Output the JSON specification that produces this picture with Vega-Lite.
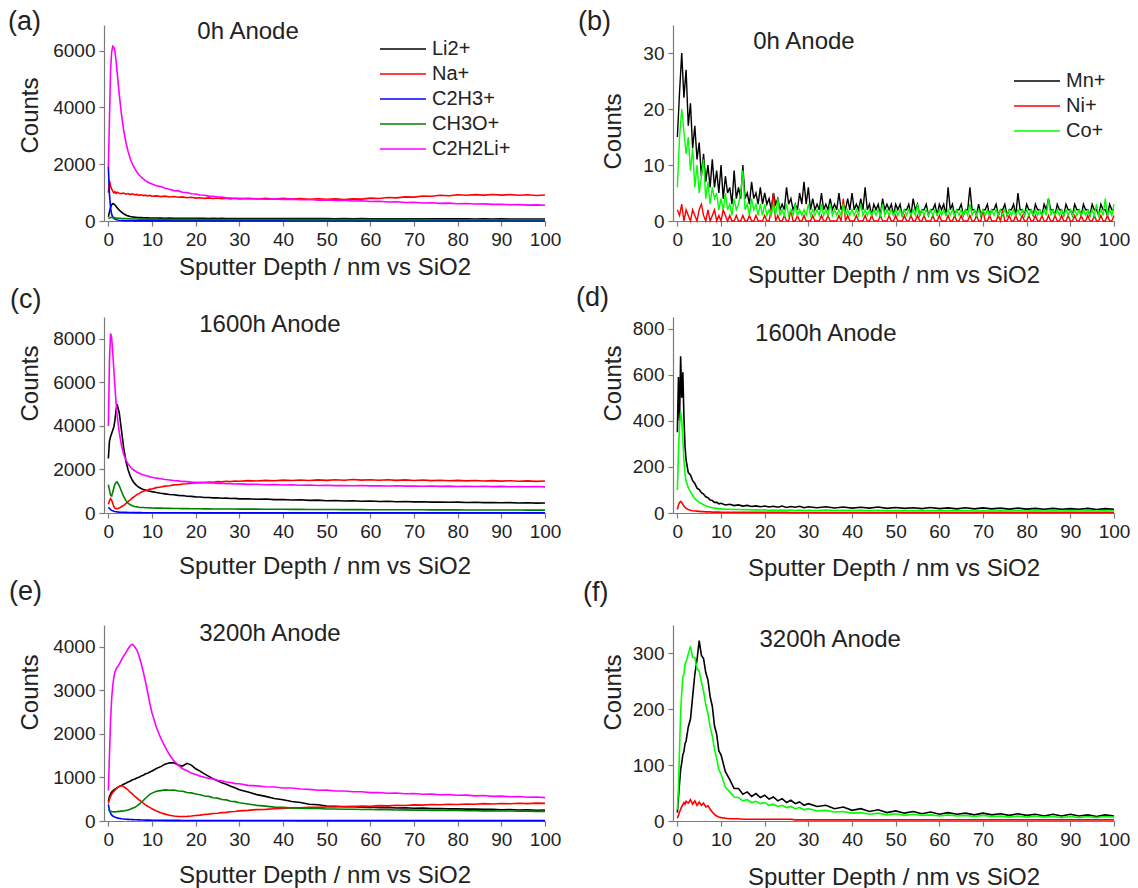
{
  "$schema": "https://vega.github.io/schema/vega-lite/v6.json",
  "background": "white",
  "padding": {"left": 8, "top": 8, "right": 6, "bottom": 4},
  "config": {
    "font": "Liberation Sans",
    "view": {"stroke": null},
    "axis": {"grid": false, "domainColor": "#7a7a7a", "tickColor": "#7a7a7a", "domainWidth": 1.2, "tickWidth": 1.2, "tickSize": 5, "labelFontSize": 19, "labelColor": "#222222", "labelPadding": 4, "labelFlush": false, "labelOverlap": false, "titleFontSize": 24, "titleFontWeight": "normal", "titleColor": "#222222"},
    "axisY": {"titleBaseline": "alphabetic"},
    "legend": {"labelFontSize": 20, "labelColor": "#222222", "symbolType": "stroke", "symbolSize": 2116, "symbolStrokeWidth": 2.5, "labelOffset": 5, "clipHeight": 22, "rowPadding": 3, "padding": 0},
    "title": {"anchor": "start", "frame": "bounds", "fontSize": 27, "fontWeight": "normal", "color": "#222222", "baseline": "bottom"},
    "line": {"strokeWidth": 1.6},
    "text": {"fontSize": 24, "color": "#222222", "align": "center", "baseline": "middle"}
  },
  "datasets": {
    "a": [
      {"x":0,"Li2+":150,"Na+":1000,"C2H3+":1900,"CH3O+":80,"C2H2Li+":1900},
      {"x":0.25,"Li2+":320,"Na+":1420,"C2H3+":950,"CH3O+":110,"C2H2Li+":3600},
      {"x":0.5,"Li2+":470,"Na+":1230,"C2H3+":460,"CH3O+":125,"C2H2Li+":5300},
      {"x":0.75,"Li2+":570,"Na+":1120,"C2H3+":240,"CH3O+":130,"C2H2Li+":5950},
      {"x":1,"Li2+":610,"Na+":1060,"C2H3+":150,"CH3O+":120,"C2H2Li+":6150},
      {"x":1.25,"Li2+":600,"Na+":990,"C2H3+":100,"CH3O+":118,"C2H2Li+":6120},
      {"x":1.5,"Li2+":570,"Na+":1030,"C2H3+":70,"CH3O+":110,"C2H2Li+":5980},
      {"x":1.75,"Li2+":520,"Na+":970,"C2H3+":50,"CH3O+":106,"C2H2Li+":5650},
      {"x":2,"Li2+":470,"Na+":1010,"C2H3+":36,"CH3O+":100,"C2H2Li+":5250},
      {"x":2.5,"Li2+":380,"Na+":980,"C2H3+":25,"CH3O+":95,"C2H2Li+":4450},
      {"x":3,"Li2+":310,"Na+":965,"C2H3+":18,"CH3O+":90,"C2H2Li+":3750},
      {"x":3.5,"Li2+":255,"Na+":985,"C2H3+":14,"CH3O+":86,"C2H2Li+":3200},
      {"x":4,"Li2+":210,"Na+":945,"C2H3+":11,"CH3O+":82,"C2H2Li+":2780},
      {"x":4.5,"Li2+":180,"Na+":965,"C2H3+":9,"CH3O+":78,"C2H2Li+":2450},
      {"x":5,"Li2+":160,"Na+":930,"C2H3+":8,"CH3O+":74,"C2H2Li+":2200},
      {"x":5.5,"Li2+":146,"Na+":955,"C2H3+":7,"CH3O+":72,"C2H2Li+":2000},
      {"x":6,"Li2+":136,"Na+":925,"C2H3+":6,"CH3O+":70,"C2H2Li+":1860},
      {"x":6.5,"Li2+":128,"Na+":935,"C2H3+":6,"CH3O+":68,"C2H2Li+":1730},
      {"x":7,"Li2+":122,"Na+":905,"C2H3+":5,"CH3O+":66,"C2H2Li+":1630},
      {"x":7.5,"Li2+":118,"Na+":925,"C2H3+":5,"CH3O+":65,"C2H2Li+":1550},
      {"x":8,"Li2+":114,"Na+":895,"C2H3+":5,"CH3O+":64,"C2H2Li+":1480},
      {"x":8.5,"Li2+":111,"Na+":910,"C2H3+":5,"CH3O+":63,"C2H2Li+":1420},
      {"x":9,"Li2+":109,"Na+":880,"C2H3+":4,"CH3O+":62,"C2H2Li+":1370},
      {"x":9.5,"Li2+":107,"Na+":900,"C2H3+":4,"CH3O+":61,"C2H2Li+":1330},
      {"x":10,"Li2+":105,"Na+":870,"C2H3+":4,"CH3O+":60,"C2H2Li+":1300},
      {"x":11,"Li2+":104,"Na+":885,"C2H3+":4,"CH3O+":60,"C2H2Li+":1240},
      {"x":12,"Li2+":101,"Na+":860,"C2H3+":4,"CH3O+":59,"C2H2Li+":1210},
      {"x":13,"Li2+":99,"Na+":875,"C2H3+":4,"CH3O+":59,"C2H2Li+":1150},
      {"x":14,"Li2+":100,"Na+":845,"C2H3+":4,"CH3O+":58,"C2H2Li+":1120},
      {"x":15,"Li2+":97,"Na+":860,"C2H3+":4,"CH3O+":58,"C2H2Li+":1070},
      {"x":16,"Li2+":98,"Na+":835,"C2H3+":4,"CH3O+":57,"C2H2Li+":1060},
      {"x":17,"Li2+":95,"Na+":850,"C2H3+":4,"CH3O+":57,"C2H2Li+":1010},
      {"x":18,"Li2+":96,"Na+":820,"C2H3+":4,"CH3O+":56,"C2H2Li+":1000},
      {"x":19,"Li2+":93,"Na+":835,"C2H3+":4,"CH3O+":56,"C2H2Li+":960},
      {"x":20,"Li2+":94,"Na+":805,"C2H3+":4,"CH3O+":56,"C2H2Li+":950},
      {"x":21,"Li2+":92,"Na+":820,"C2H3+":4,"CH3O+":55,"C2H2Li+":915},
      {"x":22,"Li2+":93,"Na+":795,"C2H3+":4,"CH3O+":55,"C2H2Li+":905},
      {"x":23,"Li2+":90,"Na+":815,"C2H3+":4,"CH3O+":55,"C2H2Li+":875},
      {"x":24,"Li2+":92,"Na+":790,"C2H3+":4,"CH3O+":54,"C2H2Li+":870},
      {"x":25,"Li2+":89,"Na+":810,"C2H3+":4,"CH3O+":54,"C2H2Li+":845},
      {"x":26,"Li2+":91,"Na+":785,"C2H3+":4,"CH3O+":54,"C2H2Li+":840},
      {"x":27,"Li2+":88,"Na+":805,"C2H3+":4,"CH3O+":53,"C2H2Li+":815},
      {"x":28,"Li2+":90,"Na+":780,"C2H3+":4,"CH3O+":53,"C2H2Li+":812},
      {"x":29,"Li2+":87,"Na+":800,"C2H3+":4,"CH3O+":53,"C2H2Li+":790},
      {"x":30,"Li2+":89,"Na+":778,"C2H3+":4,"CH3O+":52,"C2H2Li+":795},
      {"x":32,"Li2+":86,"Na+":800,"C2H3+":4,"CH3O+":52,"C2H2Li+":775},
      {"x":34,"Li2+":88,"Na+":775,"C2H3+":4,"CH3O+":52,"C2H2Li+":785},
      {"x":36,"Li2+":85,"Na+":798,"C2H3+":4,"CH3O+":51,"C2H2Li+":765},
      {"x":38,"Li2+":87,"Na+":772,"C2H3+":4,"CH3O+":51,"C2H2Li+":778},
      {"x":40,"Li2+":84,"Na+":795,"C2H3+":4,"CH3O+":51,"C2H2Li+":760},
      {"x":42,"Li2+":86,"Na+":770,"C2H3+":4,"CH3O+":50,"C2H2Li+":770},
      {"x":44,"Li2+":83,"Na+":790,"C2H3+":4,"CH3O+":50,"C2H2Li+":748},
      {"x":46,"Li2+":85,"Na+":765,"C2H3+":4,"CH3O+":50,"C2H2Li+":758},
      {"x":48,"Li2+":82,"Na+":785,"C2H3+":4,"CH3O+":50,"C2H2Li+":735},
      {"x":50,"Li2+":84,"Na+":760,"C2H3+":4,"CH3O+":49,"C2H2Li+":745},
      {"x":52,"Li2+":81,"Na+":778,"C2H3+":4,"CH3O+":49,"C2H2Li+":722},
      {"x":54,"Li2+":83,"Na+":755,"C2H3+":4,"CH3O+":49,"C2H2Li+":730},
      {"x":56,"Li2+":80,"Na+":780,"C2H3+":4,"CH3O+":49,"C2H2Li+":705},
      {"x":58,"Li2+":82,"Na+":770,"C2H3+":4,"CH3O+":48,"C2H2Li+":712},
      {"x":60,"Li2+":79,"Na+":805,"C2H3+":4,"CH3O+":48,"C2H2Li+":688},
      {"x":62,"Li2+":81,"Na+":790,"C2H3+":4,"CH3O+":48,"C2H2Li+":695},
      {"x":64,"Li2+":78,"Na+":825,"C2H3+":4,"CH3O+":48,"C2H2Li+":670},
      {"x":66,"Li2+":80,"Na+":815,"C2H3+":4,"CH3O+":47,"C2H2Li+":676},
      {"x":68,"Li2+":77,"Na+":850,"C2H3+":4,"CH3O+":47,"C2H2Li+":652},
      {"x":70,"Li2+":79,"Na+":840,"C2H3+":4,"CH3O+":47,"C2H2Li+":660},
      {"x":72,"Li2+":76,"Na+":880,"C2H3+":4,"CH3O+":47,"C2H2Li+":636},
      {"x":74,"Li2+":78,"Na+":870,"C2H3+":4,"CH3O+":46,"C2H2Li+":642},
      {"x":76,"Li2+":75,"Na+":905,"C2H3+":4,"CH3O+":46,"C2H2Li+":622},
      {"x":78,"Li2+":77,"Na+":890,"C2H3+":4,"CH3O+":46,"C2H2Li+":628},
      {"x":80,"Li2+":74,"Na+":925,"C2H3+":4,"CH3O+":46,"C2H2Li+":608},
      {"x":82,"Li2+":76,"Na+":905,"C2H3+":4,"CH3O+":45,"C2H2Li+":614},
      {"x":84,"Li2+":73,"Na+":930,"C2H3+":4,"CH3O+":45,"C2H2Li+":596},
      {"x":86,"Li2+":75,"Na+":910,"C2H3+":4,"CH3O+":45,"C2H2Li+":602},
      {"x":88,"Li2+":72,"Na+":935,"C2H3+":4,"CH3O+":45,"C2H2Li+":584},
      {"x":90,"Li2+":74,"Na+":912,"C2H3+":4,"CH3O+":45,"C2H2Li+":590},
      {"x":92,"Li2+":71,"Na+":930,"C2H3+":4,"CH3O+":44,"C2H2Li+":572},
      {"x":94,"Li2+":73,"Na+":908,"C2H3+":4,"CH3O+":44,"C2H2Li+":578},
      {"x":96,"Li2+":70,"Na+":925,"C2H3+":4,"CH3O+":44,"C2H2Li+":560},
      {"x":98,"Li2+":72,"Na+":900,"C2H3+":4,"CH3O+":44,"C2H2Li+":566},
      {"x":100,"Li2+":70,"Na+":915,"C2H3+":4,"CH3O+":44,"C2H2Li+":552}
    ],
    "b": [
      {"x":0,"Mn+":15,"Ni+":2,"Co+":6},{"x":0.5,"Mn+":23,"Ni+":1,"Co+":15},{"x":1,"Mn+":30,"Ni+":3,"Co+":20},{"x":1.5,"Mn+":22,"Ni+":0,"Co+":16},
      {"x":2,"Mn+":27,"Ni+":2,"Co+":12},{"x":2.5,"Mn+":17,"Ni+":1,"Co+":15},{"x":3,"Mn+":21,"Ni+":0,"Co+":9},{"x":3.5,"Mn+":13,"Ni+":2,"Co+":13},
      {"x":4,"Mn+":17,"Ni+":1,"Co+":6},{"x":4.5,"Mn+":11,"Ni+":0,"Co+":10},{"x":5,"Mn+":14,"Ni+":2,"Co+":5},{"x":5.5,"Mn+":8,"Ni+":3,"Co+":8},
      {"x":6,"Mn+":12,"Ni+":1,"Co+":11},{"x":6.5,"Mn+":7,"Ni+":0,"Co+":4},{"x":7,"Mn+":10,"Ni+":2,"Co+":7},{"x":7.5,"Mn+":6,"Ni+":0,"Co+":3},
      {"x":8,"Mn+":11,"Ni+":1,"Co+":6},{"x":8.5,"Mn+":6,"Ni+":2,"Co+":4},{"x":9,"Mn+":9,"Ni+":0,"Co+":5},{"x":9.5,"Mn+":5,"Ni+":1,"Co+":2},
      {"x":10,"Mn+":10,"Ni+":0,"Co+":4},{"x":10.5,"Mn+":4,"Ni+":2,"Co+":2},{"x":11,"Mn+":8,"Ni+":1,"Co+":5},{"x":11.5,"Mn+":5,"Ni+":0,"Co+":2},
      {"x":12,"Mn+":6,"Ni+":1,"Co+":3},{"x":12.5,"Mn+":3,"Ni+":0,"Co+":1},{"x":13,"Mn+":9,"Ni+":0,"Co+":4},{"x":13.5,"Mn+":4,"Ni+":1,"Co+":2},
      {"x":14,"Mn+":6,"Ni+":0,"Co+":3},{"x":14.5,"Mn+":4,"Ni+":0,"Co+":5},{"x":15,"Mn+":10,"Ni+":1,"Co+":9},{"x":15.5,"Mn+":4,"Ni+":0,"Co+":2},
      {"x":16,"Mn+":5,"Ni+":0,"Co+":3},{"x":16.5,"Mn+":3,"Ni+":1,"Co+":1},{"x":17,"Mn+":7,"Ni+":0,"Co+":4},{"x":17.5,"Mn+":4,"Ni+":0,"Co+":2},
      {"x":18,"Mn+":5,"Ni+":1,"Co+":3},{"x":18.5,"Mn+":3,"Ni+":0,"Co+":1},{"x":19,"Mn+":6,"Ni+":0,"Co+":3},{"x":19.5,"Mn+":3,"Ni+":0,"Co+":1},
      {"x":20,"Mn+":5,"Ni+":1,"Co+":3},{"x":20.5,"Mn+":3,"Ni+":0,"Co+":1},{"x":21,"Mn+":4,"Ni+":0,"Co+":2},{"x":21.5,"Mn+":2,"Ni+":2,"Co+":1},
      {"x":22,"Mn+":5,"Ni+":5,"Co+":3},{"x":22.5,"Mn+":3,"Ni+":0,"Co+":1},{"x":23,"Mn+":4,"Ni+":1,"Co+":4},{"x":23.5,"Mn+":2,"Ni+":0,"Co+":1},
      {"x":24,"Mn+":3,"Ni+":0,"Co+":2},{"x":24.5,"Mn+":2,"Ni+":1,"Co+":1},{"x":25,"Mn+":6,"Ni+":0,"Co+":3},{"x":25.5,"Mn+":3,"Ni+":0,"Co+":1},
      {"x":26,"Mn+":4,"Ni+":2,"Co+":2},{"x":26.5,"Mn+":2,"Ni+":0,"Co+":1},{"x":27,"Mn+":3,"Ni+":0,"Co+":3},{"x":27.5,"Mn+":2,"Ni+":1,"Co+":1},
      {"x":28,"Mn+":5,"Ni+":0,"Co+":2},{"x":28.5,"Mn+":3,"Ni+":0,"Co+":1},{"x":29,"Mn+":7,"Ni+":1,"Co+":2},{"x":29.5,"Mn+":3,"Ni+":0,"Co+":1},
      {"x":30,"Mn+":6,"Ni+":0,"Co+":3},{"x":30.5,"Mn+":2,"Ni+":0,"Co+":1},{"x":31,"Mn+":4,"Ni+":1,"Co+":2},{"x":31.5,"Mn+":2,"Ni+":0,"Co+":1},
      {"x":32,"Mn+":3,"Ni+":0,"Co+":2},{"x":32.5,"Mn+":2,"Ni+":0,"Co+":1},{"x":33,"Mn+":5,"Ni+":1,"Co+":3},{"x":33.5,"Mn+":2,"Ni+":0,"Co+":1},
      {"x":34,"Mn+":3,"Ni+":0,"Co+":2},{"x":34.5,"Mn+":2,"Ni+":1,"Co+":1},{"x":35,"Mn+":4,"Ni+":0,"Co+":3},{"x":35.5,"Mn+":2,"Ni+":0,"Co+":1},
      {"x":36,"Mn+":3,"Ni+":0,"Co+":2},{"x":36.5,"Mn+":2,"Ni+":0,"Co+":1},{"x":37,"Mn+":5,"Ni+":1,"Co+":2},{"x":37.5,"Mn+":2,"Ni+":0,"Co+":1},
      {"x":38,"Mn+":3,"Ni+":4,"Co+":3},{"x":38.5,"Mn+":2,"Ni+":0,"Co+":1},{"x":39,"Mn+":4,"Ni+":1,"Co+":2},{"x":39.5,"Mn+":2,"Ni+":0,"Co+":1},
      {"x":40,"Mn+":5,"Ni+":0,"Co+":2},{"x":40.5,"Mn+":2,"Ni+":0,"Co+":1},{"x":41,"Mn+":3,"Ni+":1,"Co+":2},{"x":41.5,"Mn+":2,"Ni+":0,"Co+":1},
      {"x":42,"Mn+":4,"Ni+":0,"Co+":3},{"x":42.5,"Mn+":2,"Ni+":0,"Co+":1},{"x":43,"Mn+":6,"Ni+":1,"Co+":2},{"x":43.5,"Mn+":2,"Ni+":0,"Co+":1},
      {"x":44,"Mn+":3,"Ni+":0,"Co+":2},{"x":44.5,"Mn+":1,"Ni+":1,"Co+":1},{"x":45,"Mn+":3,"Ni+":0,"Co+":2},{"x":45.5,"Mn+":2,"Ni+":0,"Co+":1},
      {"x":46,"Mn+":3,"Ni+":0,"Co+":2},{"x":46.5,"Mn+":1,"Ni+":1,"Co+":1},{"x":47,"Mn+":4,"Ni+":0,"Co+":3},{"x":47.5,"Mn+":2,"Ni+":0,"Co+":1},
      {"x":48,"Mn+":3,"Ni+":0,"Co+":2},{"x":48.5,"Mn+":2,"Ni+":1,"Co+":1},{"x":49,"Mn+":3,"Ni+":0,"Co+":2},{"x":49.5,"Mn+":1,"Ni+":0,"Co+":1},
      {"x":50,"Mn+":3,"Ni+":1,"Co+":2},{"x":50.5,"Mn+":2,"Ni+":0,"Co+":1},{"x":51,"Mn+":3,"Ni+":0,"Co+":2},{"x":51.5,"Mn+":1,"Ni+":0,"Co+":1},
      {"x":52,"Mn+":2,"Ni+":1,"Co+":2},{"x":52.5,"Mn+":2,"Ni+":0,"Co+":1},{"x":53,"Mn+":3,"Ni+":0,"Co+":2},{"x":53.5,"Mn+":1,"Ni+":1,"Co+":1},
      {"x":54,"Mn+":4,"Ni+":0,"Co+":2},{"x":54.5,"Mn+":2,"Ni+":0,"Co+":1},{"x":55,"Mn+":3,"Ni+":1,"Co+":3},{"x":55.5,"Mn+":1,"Ni+":0,"Co+":1},
      {"x":56,"Mn+":2,"Ni+":0,"Co+":2},{"x":56.5,"Mn+":2,"Ni+":1,"Co+":1},{"x":57,"Mn+":3,"Ni+":0,"Co+":2},{"x":57.5,"Mn+":1,"Ni+":0,"Co+":1},
      {"x":58,"Mn+":2,"Ni+":0,"Co+":2},{"x":58.5,"Mn+":2,"Ni+":1,"Co+":1},{"x":59,"Mn+":3,"Ni+":0,"Co+":2},{"x":59.5,"Mn+":1,"Ni+":0,"Co+":1},
      {"x":60,"Mn+":3,"Ni+":1,"Co+":2},{"x":60.5,"Mn+":2,"Ni+":0,"Co+":1},{"x":61,"Mn+":3,"Ni+":0,"Co+":2},{"x":61.5,"Mn+":1,"Ni+":0,"Co+":1},
      {"x":62,"Mn+":6,"Ni+":1,"Co+":2},{"x":62.5,"Mn+":2,"Ni+":0,"Co+":1},{"x":63,"Mn+":3,"Ni+":0,"Co+":2},{"x":63.5,"Mn+":1,"Ni+":1,"Co+":1},
      {"x":64,"Mn+":2,"Ni+":0,"Co+":2},{"x":64.5,"Mn+":2,"Ni+":0,"Co+":1},{"x":65,"Mn+":3,"Ni+":1,"Co+":2},{"x":65.5,"Mn+":1,"Ni+":0,"Co+":1},
      {"x":66,"Mn+":2,"Ni+":0,"Co+":2},{"x":66.5,"Mn+":2,"Ni+":0,"Co+":1},{"x":67,"Mn+":6,"Ni+":1,"Co+":3},{"x":67.5,"Mn+":2,"Ni+":0,"Co+":1},
      {"x":68,"Mn+":2,"Ni+":0,"Co+":2},{"x":68.5,"Mn+":1,"Ni+":1,"Co+":1},{"x":69,"Mn+":3,"Ni+":0,"Co+":2},{"x":69.5,"Mn+":1,"Ni+":0,"Co+":1},
      {"x":70,"Mn+":2,"Ni+":2,"Co+":2},{"x":70.5,"Mn+":2,"Ni+":0,"Co+":1},{"x":71,"Mn+":3,"Ni+":0,"Co+":2},{"x":71.5,"Mn+":1,"Ni+":1,"Co+":1},
      {"x":72,"Mn+":2,"Ni+":0,"Co+":2},{"x":72.5,"Mn+":2,"Ni+":0,"Co+":1},{"x":73,"Mn+":3,"Ni+":0,"Co+":2},{"x":73.5,"Mn+":1,"Ni+":1,"Co+":1},
      {"x":74,"Mn+":2,"Ni+":0,"Co+":2},{"x":74.5,"Mn+":2,"Ni+":2,"Co+":1},{"x":75,"Mn+":3,"Ni+":0,"Co+":2},{"x":75.5,"Mn+":1,"Ni+":0,"Co+":1},
      {"x":76,"Mn+":2,"Ni+":1,"Co+":2},{"x":76.5,"Mn+":2,"Ni+":0,"Co+":1},{"x":77,"Mn+":3,"Ni+":0,"Co+":2},{"x":77.5,"Mn+":1,"Ni+":1,"Co+":1},
      {"x":78,"Mn+":5,"Ni+":0,"Co+":2},{"x":78.5,"Mn+":2,"Ni+":0,"Co+":1},{"x":79,"Mn+":2,"Ni+":1,"Co+":2},{"x":79.5,"Mn+":1,"Ni+":0,"Co+":1},
      {"x":80,"Mn+":3,"Ni+":0,"Co+":2},{"x":80.5,"Mn+":2,"Ni+":1,"Co+":1},{"x":81,"Mn+":2,"Ni+":0,"Co+":2},{"x":81.5,"Mn+":1,"Ni+":0,"Co+":1},
      {"x":82,"Mn+":3,"Ni+":1,"Co+":2},{"x":82.5,"Mn+":2,"Ni+":0,"Co+":1},{"x":83,"Mn+":2,"Ni+":0,"Co+":2},{"x":83.5,"Mn+":1,"Ni+":1,"Co+":1},
      {"x":84,"Mn+":3,"Ni+":0,"Co+":2},{"x":84.5,"Mn+":2,"Ni+":0,"Co+":1},{"x":85,"Mn+":4,"Ni+":1,"Co+":4},{"x":85.5,"Mn+":2,"Ni+":0,"Co+":1},
      {"x":86,"Mn+":2,"Ni+":0,"Co+":2},{"x":86.5,"Mn+":1,"Ni+":1,"Co+":1},{"x":87,"Mn+":3,"Ni+":0,"Co+":2},{"x":87.5,"Mn+":2,"Ni+":0,"Co+":1},
      {"x":88,"Mn+":2,"Ni+":1,"Co+":2},{"x":88.5,"Mn+":1,"Ni+":0,"Co+":1},{"x":89,"Mn+":3,"Ni+":0,"Co+":2},{"x":89.5,"Mn+":2,"Ni+":1,"Co+":1},
      {"x":90,"Mn+":2,"Ni+":0,"Co+":2},{"x":90.5,"Mn+":1,"Ni+":0,"Co+":1},{"x":91,"Mn+":3,"Ni+":1,"Co+":2},{"x":91.5,"Mn+":2,"Ni+":0,"Co+":1},
      {"x":92,"Mn+":2,"Ni+":0,"Co+":2},{"x":92.5,"Mn+":1,"Ni+":1,"Co+":1},{"x":93,"Mn+":3,"Ni+":0,"Co+":2},{"x":93.5,"Mn+":2,"Ni+":0,"Co+":1},
      {"x":94,"Mn+":2,"Ni+":1,"Co+":2},{"x":94.5,"Mn+":1,"Ni+":0,"Co+":1},{"x":95,"Mn+":3,"Ni+":0,"Co+":2},{"x":95.5,"Mn+":2,"Ni+":1,"Co+":1},
      {"x":96,"Mn+":2,"Ni+":0,"Co+":3},{"x":96.5,"Mn+":1,"Ni+":0,"Co+":1},{"x":97,"Mn+":3,"Ni+":1,"Co+":2},{"x":97.5,"Mn+":2,"Ni+":0,"Co+":1},
      {"x":98,"Mn+":2,"Ni+":0,"Co+":4},{"x":98.5,"Mn+":1,"Ni+":1,"Co+":1},{"x":99,"Mn+":3,"Ni+":0,"Co+":2},{"x":99.5,"Mn+":2,"Ni+":0,"Co+":1},
      {"x":100,"Mn+":2,"Ni+":1,"Co+":3}
    ],
    "c": [
      {"x":0,"Li2+":2500,"Na+":400,"C2H3+":260,"CH3O+":1300,"C2H2Li+":4000},
      {"x":0.25,"Li2+":3300,"Na+":560,"C2H3+":210,"CH3O+":1050,"C2H2Li+":7000},
      {"x":0.5,"Li2+":3500,"Na+":660,"C2H3+":160,"CH3O+":820,"C2H2Li+":8250},
      {"x":0.75,"Li2+":3650,"Na+":590,"C2H3+":120,"CH3O+":780,"C2H2Li+":8050},
      {"x":1,"Li2+":3800,"Na+":450,"C2H3+":100,"CH3O+":950,"C2H2Li+":7350},
      {"x":1.25,"Li2+":3950,"Na+":300,"C2H3+":82,"CH3O+":1150,"C2H2Li+":6600},
      {"x":1.5,"Li2+":4250,"Na+":220,"C2H3+":70,"CH3O+":1320,"C2H2Li+":5800},
      {"x":1.75,"Li2+":4700,"Na+":195,"C2H3+":60,"CH3O+":1400,"C2H2Li+":5100},
      {"x":2,"Li2+":5000,"Na+":200,"C2H3+":52,"CH3O+":1430,"C2H2Li+":4500},
      {"x":2.5,"Li2+":4600,"Na+":230,"C2H3+":42,"CH3O+":1250,"C2H2Li+":3700},
      {"x":3,"Li2+":3800,"Na+":285,"C2H3+":36,"CH3O+":1000,"C2H2Li+":3100},
      {"x":3.5,"Li2+":3000,"Na+":350,"C2H3+":31,"CH3O+":760,"C2H2Li+":2700},
      {"x":4,"Li2+":2400,"Na+":430,"C2H3+":27,"CH3O+":580,"C2H2Li+":2450},
      {"x":4.5,"Li2+":2000,"Na+":520,"C2H3+":24,"CH3O+":450,"C2H2Li+":2260},
      {"x":5,"Li2+":1700,"Na+":600,"C2H3+":22,"CH3O+":380,"C2H2Li+":2120},
      {"x":5.5,"Li2+":1500,"Na+":690,"C2H3+":20,"CH3O+":330,"C2H2Li+":2010},
      {"x":6,"Li2+":1360,"Na+":760,"C2H3+":18,"CH3O+":300,"C2H2Li+":1950},
      {"x":6.5,"Li2+":1260,"Na+":840,"C2H3+":17,"CH3O+":280,"C2H2Li+":1880},
      {"x":7,"Li2+":1180,"Na+":890,"C2H3+":16,"CH3O+":265,"C2H2Li+":1835},
      {"x":7.5,"Li2+":1125,"Na+":955,"C2H3+":15,"CH3O+":256,"C2H2Li+":1780},
      {"x":8,"Li2+":1080,"Na+":995,"C2H3+":14,"CH3O+":250,"C2H2Li+":1755},
      {"x":8.5,"Li2+":1050,"Na+":1035,"C2H3+":13,"CH3O+":244,"C2H2Li+":1715},
      {"x":9,"Li2+":1020,"Na+":1060,"C2H3+":13,"CH3O+":240,"C2H2Li+":1695},
      {"x":9.5,"Li2+":1000,"Na+":1095,"C2H3+":12,"CH3O+":236,"C2H2Li+":1660},
      {"x":10,"Li2+":980,"Na+":1105,"C2H3+":12,"CH3O+":232,"C2H2Li+":1645},
      {"x":11,"Li2+":945,"Na+":1165,"C2H3+":11,"CH3O+":226,"C2H2Li+":1600},
      {"x":12,"Li2+":905,"Na+":1195,"C2H3+":11,"CH3O+":222,"C2H2Li+":1570},
      {"x":13,"Li2+":880,"Na+":1235,"C2H3+":10,"CH3O+":218,"C2H2Li+":1540},
      {"x":14,"Li2+":850,"Na+":1250,"C2H3+":10,"CH3O+":214,"C2H2Li+":1515},
      {"x":15,"Li2+":840,"Na+":1290,"C2H3+":10,"CH3O+":210,"C2H2Li+":1490},
      {"x":16,"Li2+":810,"Na+":1300,"C2H3+":9,"CH3O+":206,"C2H2Li+":1475},
      {"x":17,"Li2+":800,"Na+":1335,"C2H3+":9,"CH3O+":203,"C2H2Li+":1450},
      {"x":18,"Li2+":770,"Na+":1340,"C2H3+":9,"CH3O+":200,"C2H2Li+":1440},
      {"x":19,"Li2+":765,"Na+":1370,"C2H3+":9,"CH3O+":197,"C2H2Li+":1420},
      {"x":20,"Li2+":740,"Na+":1375,"C2H3+":8,"CH3O+":195,"C2H2Li+":1415},
      {"x":21,"Li2+":735,"Na+":1395,"C2H3+":8,"CH3O+":193,"C2H2Li+":1395},
      {"x":22,"Li2+":715,"Na+":1400,"C2H3+":8,"CH3O+":191,"C2H2Li+":1395},
      {"x":23,"Li2+":712,"Na+":1420,"C2H3+":8,"CH3O+":189,"C2H2Li+":1375},
      {"x":24,"Li2+":695,"Na+":1415,"C2H3+":8,"CH3O+":187,"C2H2Li+":1378},
      {"x":25,"Li2+":700,"Na+":1440,"C2H3+":8,"CH3O+":185,"C2H2Li+":1360},
      {"x":26,"Li2+":680,"Na+":1430,"C2H3+":7,"CH3O+":184,"C2H2Li+":1365},
      {"x":27,"Li2+":685,"Na+":1455,"C2H3+":7,"CH3O+":183,"C2H2Li+":1345},
      {"x":28,"Li2+":665,"Na+":1445,"C2H3+":7,"CH3O+":182,"C2H2Li+":1350},
      {"x":29,"Li2+":672,"Na+":1470,"C2H3+":7,"CH3O+":181,"C2H2Li+":1330},
      {"x":30,"Li2+":650,"Na+":1455,"C2H3+":7,"CH3O+":180,"C2H2Li+":1338},
      {"x":32,"Li2+":655,"Na+":1485,"C2H3+":7,"CH3O+":178,"C2H2Li+":1315},
      {"x":34,"Li2+":630,"Na+":1470,"C2H3+":7,"CH3O+":176,"C2H2Li+":1322},
      {"x":36,"Li2+":640,"Na+":1500,"C2H3+":7,"CH3O+":174,"C2H2Li+":1300},
      {"x":38,"Li2+":612,"Na+":1480,"C2H3+":7,"CH3O+":172,"C2H2Li+":1308},
      {"x":40,"Li2+":622,"Na+":1510,"C2H3+":6,"CH3O+":170,"C2H2Li+":1288},
      {"x":42,"Li2+":598,"Na+":1490,"C2H3+":6,"CH3O+":168,"C2H2Li+":1296},
      {"x":44,"Li2+":608,"Na+":1515,"C2H3+":6,"CH3O+":166,"C2H2Li+":1276},
      {"x":46,"Li2+":582,"Na+":1495,"C2H3+":6,"CH3O+":164,"C2H2Li+":1284},
      {"x":48,"Li2+":590,"Na+":1520,"C2H3+":6,"CH3O+":162,"C2H2Li+":1266},
      {"x":50,"Li2+":565,"Na+":1500,"C2H3+":6,"CH3O+":160,"C2H2Li+":1274},
      {"x":52,"Li2+":575,"Na+":1525,"C2H3+":6,"CH3O+":158,"C2H2Li+":1258},
      {"x":54,"Li2+":552,"Na+":1505,"C2H3+":6,"CH3O+":156,"C2H2Li+":1266},
      {"x":56,"Li2+":562,"Na+":1535,"C2H3+":6,"CH3O+":155,"C2H2Li+":1250},
      {"x":58,"Li2+":540,"Na+":1510,"C2H3+":6,"CH3O+":154,"C2H2Li+":1260},
      {"x":60,"Li2+":550,"Na+":1530,"C2H3+":6,"CH3O+":152,"C2H2Li+":1244},
      {"x":62,"Li2+":530,"Na+":1505,"C2H3+":6,"CH3O+":151,"C2H2Li+":1254},
      {"x":64,"Li2+":538,"Na+":1525,"C2H3+":6,"CH3O+":150,"C2H2Li+":1238},
      {"x":66,"Li2+":520,"Na+":1500,"C2H3+":6,"CH3O+":149,"C2H2Li+":1248},
      {"x":68,"Li2+":528,"Na+":1520,"C2H3+":6,"CH3O+":148,"C2H2Li+":1232},
      {"x":70,"Li2+":510,"Na+":1495,"C2H3+":6,"CH3O+":147,"C2H2Li+":1242},
      {"x":72,"Li2+":518,"Na+":1512,"C2H3+":5,"CH3O+":146,"C2H2Li+":1228},
      {"x":74,"Li2+":500,"Na+":1488,"C2H3+":5,"CH3O+":145,"C2H2Li+":1238},
      {"x":76,"Li2+":508,"Na+":1506,"C2H3+":5,"CH3O+":144,"C2H2Li+":1224},
      {"x":78,"Li2+":492,"Na+":1482,"C2H3+":5,"CH3O+":143,"C2H2Li+":1234},
      {"x":80,"Li2+":500,"Na+":1500,"C2H3+":5,"CH3O+":142,"C2H2Li+":1220},
      {"x":82,"Li2+":484,"Na+":1476,"C2H3+":5,"CH3O+":141,"C2H2Li+":1230},
      {"x":84,"Li2+":492,"Na+":1494,"C2H3+":5,"CH3O+":140,"C2H2Li+":1216},
      {"x":86,"Li2+":476,"Na+":1470,"C2H3+":5,"CH3O+":139,"C2H2Li+":1226},
      {"x":88,"Li2+":484,"Na+":1488,"C2H3+":5,"CH3O+":138,"C2H2Li+":1212},
      {"x":90,"Li2+":468,"Na+":1464,"C2H3+":5,"CH3O+":137,"C2H2Li+":1222},
      {"x":92,"Li2+":476,"Na+":1482,"C2H3+":5,"CH3O+":136,"C2H2Li+":1208},
      {"x":94,"Li2+":460,"Na+":1458,"C2H3+":5,"CH3O+":135,"C2H2Li+":1218},
      {"x":96,"Li2+":468,"Na+":1476,"C2H3+":5,"CH3O+":134,"C2H2Li+":1204},
      {"x":98,"Li2+":452,"Na+":1452,"C2H3+":5,"CH3O+":133,"C2H2Li+":1214},
      {"x":100,"Li2+":460,"Na+":1470,"C2H3+":5,"CH3O+":132,"C2H2Li+":1200}
    ],
    "d": [
      {"x":0,"Mn+":350,"Ni+":15,"Co+":100},{"x":0.25,"Mn+":590,"Ni+":35,"Co+":260},{"x":0.5,"Mn+":400,"Ni+":46,"Co+":380},{"x":0.75,"Mn+":680,"Ni+":50,"Co+":440},
      {"x":1,"Mn+":500,"Ni+":45,"Co+":400},{"x":1.25,"Mn+":610,"Ni+":38,"Co+":320},{"x":1.5,"Mn+":420,"Ni+":30,"Co+":230},{"x":1.75,"Mn+":290,"Ni+":24,"Co+":170},
      {"x":2,"Mn+":230,"Ni+":20,"Co+":140},{"x":2.5,"Mn+":175,"Ni+":15,"Co+":110},{"x":3,"Mn+":165,"Ni+":12,"Co+":92},{"x":3.5,"Mn+":140,"Ni+":10,"Co+":76},
      {"x":4,"Mn+":128,"Ni+":9,"Co+":62},{"x":4.5,"Mn+":108,"Ni+":8,"Co+":54},{"x":5,"Mn+":102,"Ni+":7,"Co+":46},{"x":5.5,"Mn+":88,"Ni+":6,"Co+":41},
      {"x":6,"Mn+":82,"Ni+":6,"Co+":36},{"x":6.5,"Mn+":70,"Ni+":5,"Co+":31},{"x":7,"Mn+":66,"Ni+":5,"Co+":28},{"x":7.5,"Mn+":56,"Ni+":5,"Co+":25},
      {"x":8,"Mn+":54,"Ni+":4,"Co+":23},{"x":8.5,"Mn+":46,"Ni+":4,"Co+":21},{"x":9,"Mn+":46,"Ni+":4,"Co+":20},{"x":9.5,"Mn+":40,"Ni+":4,"Co+":18},
      {"x":10,"Mn+":42,"Ni+":3,"Co+":18},{"x":11,"Mn+":35,"Ni+":3,"Co+":16},{"x":12,"Mn+":38,"Ni+":3,"Co+":16},{"x":13,"Mn+":32,"Ni+":3,"Co+":15},
      {"x":14,"Mn+":35,"Ni+":3,"Co+":15},{"x":15,"Mn+":30,"Ni+":3,"Co+":14},{"x":16,"Mn+":33,"Ni+":3,"Co+":15},{"x":17,"Mn+":28,"Ni+":3,"Co+":13},
      {"x":18,"Mn+":31,"Ni+":3,"Co+":14},{"x":19,"Mn+":27,"Ni+":3,"Co+":13},{"x":20,"Mn+":30,"Ni+":3,"Co+":14},{"x":21,"Mn+":26,"Ni+":3,"Co+":12},
      {"x":22,"Mn+":29,"Ni+":3,"Co+":13},{"x":23,"Mn+":25,"Ni+":3,"Co+":12},{"x":24,"Mn+":30,"Ni+":3,"Co+":13},{"x":25,"Mn+":24,"Ni+":3,"Co+":12},
      {"x":26,"Mn+":28,"Ni+":2,"Co+":13},{"x":27,"Mn+":25,"Ni+":2,"Co+":11},{"x":28,"Mn+":29,"Ni+":2,"Co+":13},{"x":29,"Mn+":23,"Ni+":2,"Co+":11},
      {"x":30,"Mn+":27,"Ni+":2,"Co+":12},{"x":32,"Mn+":23,"Ni+":2,"Co+":11},{"x":34,"Mn+":27,"Ni+":2,"Co+":13},{"x":36,"Mn+":22,"Ni+":2,"Co+":11},
      {"x":38,"Mn+":26,"Ni+":2,"Co+":12},{"x":40,"Mn+":21,"Ni+":2,"Co+":11},{"x":42,"Mn+":25,"Ni+":2,"Co+":12},{"x":44,"Mn+":21,"Ni+":2,"Co+":10},
      {"x":46,"Mn+":26,"Ni+":2,"Co+":12},{"x":48,"Mn+":20,"Ni+":2,"Co+":10},{"x":50,"Mn+":24,"Ni+":2,"Co+":11},{"x":52,"Mn+":20,"Ni+":2,"Co+":10},
      {"x":54,"Mn+":23,"Ni+":2,"Co+":11},{"x":56,"Mn+":19,"Ni+":2,"Co+":10},{"x":58,"Mn+":24,"Ni+":2,"Co+":11},{"x":60,"Mn+":19,"Ni+":2,"Co+":10},
      {"x":62,"Mn+":22,"Ni+":2,"Co+":11},{"x":64,"Mn+":18,"Ni+":2,"Co+":10},{"x":66,"Mn+":23,"Ni+":2,"Co+":11},{"x":68,"Mn+":18,"Ni+":2,"Co+":9},
      {"x":70,"Mn+":22,"Ni+":2,"Co+":10},{"x":72,"Mn+":18,"Ni+":2,"Co+":9},{"x":74,"Mn+":21,"Ni+":2,"Co+":10},{"x":76,"Mn+":17,"Ni+":2,"Co+":9},
      {"x":78,"Mn+":21,"Ni+":2,"Co+":10},{"x":80,"Mn+":17,"Ni+":2,"Co+":9},{"x":82,"Mn+":20,"Ni+":2,"Co+":10},{"x":84,"Mn+":16,"Ni+":2,"Co+":9},
      {"x":86,"Mn+":20,"Ni+":2,"Co+":10},{"x":88,"Mn+":16,"Ni+":2,"Co+":9},{"x":90,"Mn+":19,"Ni+":2,"Co+":10},{"x":92,"Mn+":16,"Ni+":2,"Co+":9},
      {"x":94,"Mn+":20,"Ni+":2,"Co+":10},{"x":96,"Mn+":15,"Ni+":2,"Co+":9},{"x":98,"Mn+":19,"Ni+":2,"Co+":10},{"x":100,"Mn+":16,"Ni+":2,"Co+":9}
    ],
    "e": [
      {"x":0,"Li2+":450,"Na+":400,"C2H3+":380,"CH3O+":250,"C2H2Li+":700},
      {"x":0.25,"Li2+":560,"Na+":500,"C2H3+":250,"CH3O+":235,"C2H2Li+":1500},
      {"x":0.5,"Li2+":620,"Na+":565,"C2H3+":180,"CH3O+":222,"C2H2Li+":2300},
      {"x":0.75,"Li2+":665,"Na+":610,"C2H3+":140,"CH3O+":215,"C2H2Li+":2800},
      {"x":1,"Li2+":690,"Na+":655,"C2H3+":115,"CH3O+":212,"C2H2Li+":3100},
      {"x":1.25,"Li2+":715,"Na+":680,"C2H3+":100,"CH3O+":210,"C2H2Li+":3300},
      {"x":1.5,"Li2+":730,"Na+":710,"C2H3+":90,"CH3O+":210,"C2H2Li+":3420},
      {"x":1.75,"Li2+":748,"Na+":735,"C2H3+":80,"CH3O+":212,"C2H2Li+":3480},
      {"x":2,"Li2+":760,"Na+":760,"C2H3+":72,"CH3O+":215,"C2H2Li+":3530},
      {"x":2.5,"Li2+":795,"Na+":790,"C2H3+":60,"CH3O+":220,"C2H2Li+":3600},
      {"x":3,"Li2+":815,"Na+":812,"C2H3+":52,"CH3O+":226,"C2H2Li+":3700},
      {"x":3.5,"Li2+":845,"Na+":790,"C2H3+":46,"CH3O+":232,"C2H2Li+":3790},
      {"x":4,"Li2+":868,"Na+":752,"C2H3+":41,"CH3O+":242,"C2H2Li+":3860},
      {"x":4.5,"Li2+":895,"Na+":712,"C2H3+":37,"CH3O+":252,"C2H2Li+":3950},
      {"x":5,"Li2+":912,"Na+":660,"C2H3+":34,"CH3O+":270,"C2H2Li+":4030},
      {"x":5.5,"Li2+":945,"Na+":622,"C2H3+":31,"CH3O+":292,"C2H2Li+":4060},
      {"x":6,"Li2+":958,"Na+":568,"C2H3+":29,"CH3O+":312,"C2H2Li+":4000},
      {"x":6.5,"Li2+":985,"Na+":530,"C2H3+":27,"CH3O+":343,"C2H2Li+":3930},
      {"x":7,"Li2+":1002,"Na+":488,"C2H3+":25,"CH3O+":382,"C2H2Li+":3800},
      {"x":7.5,"Li2+":1035,"Na+":452,"C2H3+":23,"CH3O+":425,"C2H2Li+":3620},
      {"x":8,"Li2+":1048,"Na+":408,"C2H3+":22,"CH3O+":470,"C2H2Li+":3420},
      {"x":8.5,"Li2+":1085,"Na+":372,"C2H3+":21,"CH3O+":522,"C2H2Li+":3200},
      {"x":9,"Li2+":1098,"Na+":338,"C2H3+":20,"CH3O+":568,"C2H2Li+":2950},
      {"x":9.5,"Li2+":1125,"Na+":312,"C2H3+":19,"CH3O+":612,"C2H2Li+":2700},
      {"x":10,"Li2+":1148,"Na+":280,"C2H3+":18,"CH3O+":640,"C2H2Li+":2480},
      {"x":11,"Li2+":1205,"Na+":232,"C2H3+":17,"CH3O+":682,"C2H2Li+":2150},
      {"x":12,"Li2+":1248,"Na+":192,"C2H3+":16,"CH3O+":698,"C2H2Li+":1900},
      {"x":13,"Li2+":1305,"Na+":158,"C2H3+":15,"CH3O+":715,"C2H2Li+":1700},
      {"x":14,"Li2+":1338,"Na+":132,"C2H3+":15,"CH3O+":705,"C2H2Li+":1520},
      {"x":15,"Li2+":1335,"Na+":116,"C2H3+":14,"CH3O+":712,"C2H2Li+":1380},
      {"x":16,"Li2+":1288,"Na+":104,"C2H3+":14,"CH3O+":688,"C2H2Li+":1285},
      {"x":17,"Li2+":1262,"Na+":102,"C2H3+":13,"CH3O+":684,"C2H2Li+":1200},
      {"x":18,"Li2+":1325,"Na+":106,"C2H3+":13,"CH3O+":655,"C2H2Li+":1155},
      {"x":19,"Li2+":1284,"Na+":114,"C2H3+":13,"CH3O+":645,"C2H2Li+":1100},
      {"x":20,"Li2+":1198,"Na+":126,"C2H3+":12,"CH3O+":618,"C2H2Li+":1065},
      {"x":21,"Li2+":1145,"Na+":134,"C2H3+":12,"CH3O+":604,"C2H2Li+":1030},
      {"x":22,"Li2+":1082,"Na+":150,"C2H3+":12,"CH3O+":575,"C2H2Li+":1005},
      {"x":23,"Li2+":1025,"Na+":158,"C2H3+":12,"CH3O+":565,"C2H2Li+":978},
      {"x":24,"Li2+":968,"Na+":172,"C2H3+":11,"CH3O+":535,"C2H2Li+":965},
      {"x":25,"Li2+":925,"Na+":178,"C2H3+":11,"CH3O+":525,"C2H2Li+":935},
      {"x":26,"Li2+":876,"Na+":192,"C2H3+":11,"CH3O+":495,"C2H2Li+":925},
      {"x":27,"Li2+":845,"Na+":198,"C2H3+":11,"CH3O+":485,"C2H2Li+":895},
      {"x":28,"Li2+":796,"Na+":212,"C2H3+":11,"CH3O+":455,"C2H2Li+":885},
      {"x":29,"Li2+":765,"Na+":218,"C2H3+":11,"CH3O+":445,"C2H2Li+":858},
      {"x":30,"Li2+":718,"Na+":232,"C2H3+":10,"CH3O+":418,"C2H2Li+":855},
      {"x":32,"Li2+":664,"Na+":243,"C2H3+":10,"CH3O+":392,"C2H2Li+":818},
      {"x":34,"Li2+":606,"Na+":262,"C2H3+":10,"CH3O+":358,"C2H2Li+":806},
      {"x":36,"Li2+":565,"Na+":268,"C2H3+":10,"CH3O+":342,"C2H2Li+":786},
      {"x":38,"Li2+":516,"Na+":282,"C2H3+":10,"CH3O+":318,"C2H2Li+":782},
      {"x":40,"Li2+":486,"Na+":288,"C2H3+":10,"CH3O+":312,"C2H2Li+":756},
      {"x":42,"Li2+":446,"Na+":302,"C2H3+":10,"CH3O+":298,"C2H2Li+":758},
      {"x":44,"Li2+":425,"Na+":303,"C2H3+":9,"CH3O+":296,"C2H2Li+":736},
      {"x":46,"Li2+":386,"Na+":312,"C2H3+":9,"CH3O+":286,"C2H2Li+":726},
      {"x":48,"Li2+":374,"Na+":313,"C2H3+":9,"CH3O+":286,"C2H2Li+":706},
      {"x":50,"Li2+":346,"Na+":322,"C2H3+":9,"CH3O+":276,"C2H2Li+":708},
      {"x":52,"Li2+":340,"Na+":324,"C2H3+":9,"CH3O+":277,"C2H2Li+":688},
      {"x":54,"Li2+":328,"Na+":332,"C2H3+":9,"CH3O+":270,"C2H2Li+":690},
      {"x":56,"Li2+":330,"Na+":331,"C2H3+":9,"CH3O+":271,"C2H2Li+":670},
      {"x":58,"Li2+":318,"Na+":342,"C2H3+":9,"CH3O+":264,"C2H2Li+":672},
      {"x":60,"Li2+":322,"Na+":338,"C2H3+":9,"CH3O+":266,"C2H2Li+":652},
      {"x":62,"Li2+":308,"Na+":352,"C2H3+":9,"CH3O+":259,"C2H2Li+":656},
      {"x":64,"Li2+":312,"Na+":348,"C2H3+":9,"CH3O+":261,"C2H2Li+":638},
      {"x":66,"Li2+":300,"Na+":362,"C2H3+":9,"CH3O+":254,"C2H2Li+":642},
      {"x":68,"Li2+":304,"Na+":357,"C2H3+":9,"CH3O+":256,"C2H2Li+":624},
      {"x":70,"Li2+":292,"Na+":370,"C2H3+":9,"CH3O+":249,"C2H2Li+":630},
      {"x":72,"Li2+":296,"Na+":365,"C2H3+":9,"CH3O+":251,"C2H2Li+":614},
      {"x":74,"Li2+":284,"Na+":378,"C2H3+":9,"CH3O+":244,"C2H2Li+":618},
      {"x":76,"Li2+":288,"Na+":372,"C2H3+":9,"CH3O+":246,"C2H2Li+":602},
      {"x":78,"Li2+":278,"Na+":386,"C2H3+":9,"CH3O+":240,"C2H2Li+":606},
      {"x":80,"Li2+":282,"Na+":380,"C2H3+":9,"CH3O+":242,"C2H2Li+":590},
      {"x":82,"Li2+":272,"Na+":392,"C2H3+":9,"CH3O+":236,"C2H2Li+":594},
      {"x":84,"Li2+":276,"Na+":386,"C2H3+":9,"CH3O+":238,"C2H2Li+":578},
      {"x":86,"Li2+":266,"Na+":398,"C2H3+":9,"CH3O+":232,"C2H2Li+":584},
      {"x":88,"Li2+":270,"Na+":392,"C2H3+":9,"CH3O+":234,"C2H2Li+":566},
      {"x":90,"Li2+":260,"Na+":402,"C2H3+":9,"CH3O+":228,"C2H2Li+":572},
      {"x":92,"Li2+":264,"Na+":396,"C2H3+":9,"CH3O+":230,"C2H2Li+":556},
      {"x":94,"Li2+":254,"Na+":406,"C2H3+":9,"CH3O+":224,"C2H2Li+":562},
      {"x":96,"Li2+":258,"Na+":400,"C2H3+":9,"CH3O+":226,"C2H2Li+":544},
      {"x":98,"Li2+":248,"Na+":410,"C2H3+":9,"CH3O+":220,"C2H2Li+":550},
      {"x":100,"Li2+":252,"Na+":404,"C2H3+":9,"CH3O+":222,"C2H2Li+":536}
    ],
    "f": [
      {"x":0,"Mn+":15,"Ni+":5,"Co+":20},{"x":0.25,"Mn+":42,"Ni+":10,"Co+":60},{"x":0.5,"Mn+":68,"Ni+":16,"Co+":130},{"x":0.75,"Mn+":92,"Ni+":21,"Co+":195},
      {"x":1,"Mn+":104,"Ni+":26,"Co+":228},{"x":1.25,"Mn+":118,"Ni+":29,"Co+":258},{"x":1.5,"Mn+":124,"Ni+":33,"Co+":262},{"x":1.75,"Mn+":138,"Ni+":30,"Co+":280},
      {"x":2,"Mn+":143,"Ni+":35,"Co+":284},{"x":2.5,"Mn+":168,"Ni+":32,"Co+":298},{"x":3,"Mn+":182,"Ni+":38,"Co+":312},{"x":3.5,"Mn+":222,"Ni+":30,"Co+":292},
      {"x":4,"Mn+":262,"Ni+":36,"Co+":292},{"x":4.5,"Mn+":288,"Ni+":28,"Co+":272},{"x":5,"Mn+":322,"Ni+":34,"Co+":268},{"x":5.5,"Mn+":296,"Ni+":28,"Co+":248},
      {"x":6,"Mn+":290,"Ni+":32,"Co+":232},{"x":6.5,"Mn+":265,"Ni+":25,"Co+":208},{"x":7,"Mn+":252,"Ni+":27,"Co+":192},{"x":7.5,"Mn+":222,"Ni+":21,"Co+":168},
      {"x":8,"Mn+":205,"Ni+":16,"Co+":152},{"x":8.5,"Mn+":170,"Ni+":12,"Co+":128},{"x":9,"Mn+":155,"Ni+":9,"Co+":112},{"x":9.5,"Mn+":125,"Ni+":7,"Co+":92},
      {"x":10,"Mn+":118,"Ni+":6,"Co+":84},{"x":11,"Mn+":88,"Ni+":5,"Co+":60},{"x":12,"Mn+":74,"Ni+":4,"Co+":52},{"x":13,"Mn+":58,"Ni+":4,"Co+":43},
      {"x":14,"Mn+":58,"Ni+":4,"Co+":42},{"x":15,"Mn+":48,"Ni+":3,"Co+":36},{"x":16,"Mn+":52,"Ni+":3,"Co+":38},{"x":17,"Mn+":44,"Ni+":3,"Co+":33},
      {"x":18,"Mn+":49,"Ni+":3,"Co+":35},{"x":19,"Mn+":42,"Ni+":3,"Co+":31},{"x":20,"Mn+":46,"Ni+":3,"Co+":33},{"x":21,"Mn+":39,"Ni+":3,"Co+":28},
      {"x":22,"Mn+":43,"Ni+":3,"Co+":30},{"x":23,"Mn+":36,"Ni+":3,"Co+":26},{"x":24,"Mn+":40,"Ni+":3,"Co+":28},{"x":25,"Mn+":33,"Ni+":3,"Co+":24},
      {"x":26,"Mn+":37,"Ni+":3,"Co+":26},{"x":27,"Mn+":31,"Ni+":2,"Co+":22},{"x":28,"Mn+":34,"Ni+":2,"Co+":24},{"x":29,"Mn+":28,"Ni+":2,"Co+":20},
      {"x":30,"Mn+":31,"Ni+":2,"Co+":22},{"x":32,"Mn+":26,"Ni+":2,"Co+":18},{"x":34,"Mn+":28,"Ni+":2,"Co+":19},{"x":36,"Mn+":22,"Ni+":2,"Co+":16},
      {"x":38,"Mn+":25,"Ni+":2,"Co+":17},{"x":40,"Mn+":19,"Ni+":2,"Co+":14},{"x":42,"Mn+":22,"Ni+":2,"Co+":15},{"x":44,"Mn+":17,"Ni+":2,"Co+":12},
      {"x":46,"Mn+":20,"Ni+":2,"Co+":14},{"x":48,"Mn+":15,"Ni+":2,"Co+":11},{"x":50,"Mn+":18,"Ni+":2,"Co+":13},{"x":52,"Mn+":14,"Ni+":2,"Co+":10},
      {"x":54,"Mn+":17,"Ni+":2,"Co+":12},{"x":56,"Mn+":13,"Ni+":2,"Co+":10},{"x":58,"Mn+":16,"Ni+":2,"Co+":11},{"x":60,"Mn+":12,"Ni+":2,"Co+":9},
      {"x":62,"Mn+":15,"Ni+":2,"Co+":11},{"x":64,"Mn+":12,"Ni+":2,"Co+":9},{"x":66,"Mn+":14,"Ni+":2,"Co+":10},{"x":68,"Mn+":11,"Ni+":2,"Co+":8},
      {"x":70,"Mn+":14,"Ni+":2,"Co+":10},{"x":72,"Mn+":11,"Ni+":2,"Co+":8},{"x":74,"Mn+":13,"Ni+":2,"Co+":9},{"x":76,"Mn+":10,"Ni+":2,"Co+":7},
      {"x":78,"Mn+":13,"Ni+":2,"Co+":9},{"x":80,"Mn+":10,"Ni+":2,"Co+":7},{"x":82,"Mn+":12,"Ni+":2,"Co+":9},{"x":84,"Mn+":9,"Ni+":2,"Co+":7},
      {"x":86,"Mn+":12,"Ni+":2,"Co+":8},{"x":88,"Mn+":9,"Ni+":2,"Co+":6},{"x":90,"Mn+":12,"Ni+":2,"Co+":8},{"x":92,"Mn+":9,"Ni+":2,"Co+":6},
      {"x":94,"Mn+":11,"Ni+":2,"Co+":8},{"x":96,"Mn+":8,"Ni+":2,"Co+":6},{"x":98,"Mn+":11,"Ni+":2,"Co+":8},{"x":100,"Mn+":9,"Ni+":2,"Co+":7}
    ]
  },
  "columns": 2,
  "spacing": {"row": -3, "column": 15},
  "resolve": {"scale": {"x": "independent", "y": "independent", "color": "independent"}, "legend": {"color": "independent"}},
  "concat": [
    {
      "title": {"text": "(a)", "offset": -16, "dx": -10},
      "width": 441, "height": 196,
      "data": {"name": "a"},
      "layer": [
        {
          "transform": [{"fold": ["Li2+", "Na+", "C2H3+", "CH3O+", "C2H2Li+"], "as": ["ion", "counts"]}],
          "mark": "line",
          "encoding": {
            "x": {"field": "x", "type": "quantitative", "scale": {"domain": [-1, 100], "nice": false, "zero": false},
                  "axis": {"title": "Sputter Depth / nm vs SiO2", "titleY": 34, "values": [0,5,10,15,20,25,30,35,40,45,50,55,60,65,70,75,80,85,90,95,100], "labelExpr": "datum.value % 10 === 0 ? datum.label : ''"}},
            "y": {"field": "counts", "type": "quantitative", "scale": {"domain": [0, 6900], "nice": false},
                  "axis": {"title": "Counts", "titleX": -67, "titleY": 90, "format": "d", "values": [0,1000,2000,3000,4000,5000,6000], "labelExpr": "datum.value % 2000 === 0 ? datum.label : ''"}},
            "color": {"field": "ion", "type": "nominal",
                      "scale": {"domain": ["Li2+", "Na+", "C2H3+", "CH3O+", "C2H2Li+"], "range": ["#000000", "#ff0000", "#0000ff", "#008000", "#ff00ff"]},
                      "legend": {"title": null, "orient": "none", "legendX": 275, "legendY": 13}}
          }
        },
        {"data": {"values": [{}]}, "mark": {"type": "text", "text": "0h Anode"}, "encoding": {"x": {"datum": 32}, "y": {"datum": 6650}}}
      ]
    },
    {
      "title": {"text": "(b)", "offset": -11, "dx": -23},
      "width": 441, "height": 196,
      "data": {"name": "b"},
      "layer": [
        {
          "transform": [{"fold": ["Mn+", "Ni+", "Co+"], "as": ["ion", "counts"]}],
          "mark": {"type": "line", "strokeWidth": 1.4},
          "encoding": {
            "x": {"field": "x", "type": "quantitative", "scale": {"domain": [-1, 100], "nice": false, "zero": false},
                  "axis": {"title": "Sputter Depth / nm vs SiO2", "titleY": 42, "values": [0,5,10,15,20,25,30,35,40,45,50,55,60,65,70,75,80,85,90,95,100], "labelExpr": "datum.value % 10 === 0 ? datum.label : ''"}},
            "y": {"field": "counts", "type": "quantitative", "scale": {"domain": [0, 35], "nice": false},
                  "axis": {"title": "Counts", "titleX": -53, "titleY": 106, "format": "d", "values": [0,5,10,15,20,25,30], "labelExpr": "datum.value % 10 === 0 ? datum.label : ''"}},
            "color": {"field": "ion", "type": "nominal",
                      "scale": {"domain": ["Mn+", "Ni+", "Co+"], "range": ["#000000", "#ff0000", "#00ff00"]},
                      "legend": {"title": null, "orient": "none", "legendX": 340, "legendY": 45}}
          }
        },
        {"data": {"values": [{}]}, "mark": {"type": "text", "text": "0h Anode"}, "encoding": {"x": {"datum": 29}, "y": {"datum": 32}}}
      ]
    },
    {
      "title": {"text": "(c)", "offset": -1, "dx": -8},
      "width": 441, "height": 196,
      "data": {"name": "c"},
      "layer": [
        {
          "transform": [{"fold": ["Li2+", "Na+", "C2H3+", "CH3O+", "C2H2Li+"], "as": ["ion", "counts"]}],
          "mark": "line",
          "encoding": {
            "x": {"field": "x", "type": "quantitative", "scale": {"domain": [-1, 100], "nice": false, "zero": false},
                  "axis": {"title": "Sputter Depth / nm vs SiO2", "titleY": 41, "values": [0,5,10,15,20,25,30,35,40,45,50,55,60,65,70,75,80,85,90,95,100], "labelExpr": "datum.value % 10 === 0 ? datum.label : ''"}},
            "y": {"field": "counts", "type": "quantitative", "scale": {"domain": [0, 9000], "nice": false},
                  "axis": {"title": "Counts", "titleX": -67, "titleY": 66, "format": "d", "values": [0,1000,2000,3000,4000,5000,6000,7000,8000,9000], "labelExpr": "datum.value % 2000 === 0 ? datum.label : ''"}},
            "color": {"field": "ion", "type": "nominal",
                      "scale": {"domain": ["Li2+", "Na+", "C2H3+", "CH3O+", "C2H2Li+"], "range": ["#000000", "#ff0000", "#0000ff", "#008000", "#ff00ff"]},
                      "legend": null}
          }
        },
        {"data": {"values": [{}]}, "mark": {"type": "text", "text": "1600h Anode"}, "encoding": {"x": {"datum": 37}, "y": {"datum": 8650}}}
      ]
    },
    {
      "title": {"text": "(d)", "offset": 5, "dx": -25},
      "width": 441, "height": 196,
      "data": {"name": "d"},
      "layer": [
        {
          "transform": [{"fold": ["Mn+", "Ni+", "Co+"], "as": ["ion", "counts"]}],
          "mark": "line",
          "encoding": {
            "x": {"field": "x", "type": "quantitative", "scale": {"domain": [-1, 100], "nice": false, "zero": false},
                  "axis": {"title": "Sputter Depth / nm vs SiO2", "titleY": 43, "values": [0,5,10,15,20,25,30,35,40,45,50,55,60,65,70,75,80,85,90,95,100], "labelExpr": "datum.value % 10 === 0 ? datum.label : ''"}},
            "y": {"field": "counts", "type": "quantitative", "scale": {"domain": [0, 850], "nice": false},
                  "axis": {"title": "Counts", "titleX": -53, "titleY": 66, "format": "d", "values": [0,50,100,150,200,250,300,350,400,450,500,550,600,650,700,750,800,850], "labelExpr": "datum.value % 100 === 0 ? datum.label : ''"}},
            "color": {"field": "ion", "type": "nominal",
                      "scale": {"domain": ["Mn+", "Ni+", "Co+"], "range": ["#000000", "#ff0000", "#00ff00"]},
                      "legend": null}
          }
        },
        {"data": {"values": [{}]}, "mark": {"type": "text", "text": "1600h Anode"}, "encoding": {"x": {"datum": 34}, "y": {"datum": 776}}}
      ]
    },
    {
      "title": {"text": "(e)", "offset": 16, "dx": -9},
      "width": 441, "height": 196,
      "data": {"name": "e"},
      "layer": [
        {
          "transform": [{"fold": ["Li2+", "Na+", "C2H3+", "CH3O+", "C2H2Li+"], "as": ["ion", "counts"]}],
          "mark": "line",
          "encoding": {
            "x": {"field": "x", "type": "quantitative", "scale": {"domain": [-1, 100], "nice": false, "zero": false},
                  "axis": {"title": "Sputter Depth / nm vs SiO2", "titleY": 42, "values": [0,5,10,15,20,25,30,35,40,45,50,55,60,65,70,75,80,85,90,95,100], "labelExpr": "datum.value % 10 === 0 ? datum.label : ''"}},
            "y": {"field": "counts", "type": "quantitative", "scale": {"domain": [0, 4500], "nice": false},
                  "axis": {"title": "Counts", "titleX": -67, "titleY": 67, "format": "d", "values": [0,500,1000,1500,2000,2500,3000,3500,4000,4500], "labelExpr": "datum.value % 1000 === 0 ? datum.label : ''"}},
            "color": {"field": "ion", "type": "nominal",
                      "scale": {"domain": ["Li2+", "Na+", "C2H3+", "CH3O+", "C2H2Li+"], "range": ["#000000", "#ff0000", "#0000ff", "#008000", "#ff00ff"]},
                      "legend": null}
          }
        },
        {"data": {"values": [{}]}, "mark": {"type": "text", "text": "3200h Anode"}, "encoding": {"x": {"datum": 37}, "y": {"datum": 4300}}}
      ]
    },
    {
      "title": {"text": "(f)", "offset": 18, "dx": -18},
      "width": 441, "height": 196,
      "data": {"name": "f"},
      "layer": [
        {
          "transform": [{"fold": ["Mn+", "Ni+", "Co+"], "as": ["ion", "counts"]}],
          "mark": "line",
          "encoding": {
            "x": {"field": "x", "type": "quantitative", "scale": {"domain": [-1, 100], "nice": false, "zero": false},
                  "axis": {"title": "Sputter Depth / nm vs SiO2", "titleY": 44, "values": [0,5,10,15,20,25,30,35,40,45,50,55,60,65,70,75,80,85,90,95,100], "labelExpr": "datum.value % 10 === 0 ? datum.label : ''"}},
            "y": {"field": "counts", "type": "quantitative", "scale": {"domain": [0, 350], "nice": false},
                  "axis": {"title": "Counts", "titleX": -53, "titleY": 67, "format": "d", "values": [0,25,50,75,100,125,150,175,200,225,250,275,300,325,350], "labelExpr": "datum.value % 50 === 0 ? datum.label : ''"}},
            "color": {"field": "ion", "type": "nominal",
                      "scale": {"domain": ["Mn+", "Ni+", "Co+"], "range": ["#000000", "#ff0000", "#00ff00"]},
                      "legend": null}
          }
        },
        {"data": {"values": [{}]}, "mark": {"type": "text", "text": "3200h Anode"}, "encoding": {"x": {"datum": 35}, "y": {"datum": 323}}}
      ]
    }
  ]
}
